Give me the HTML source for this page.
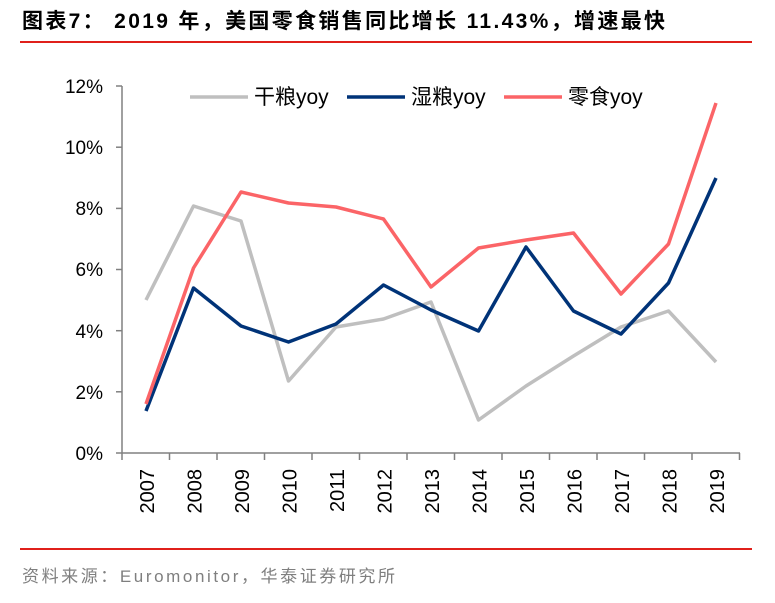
<!DOCTYPE html>
<html><head><meta charset="utf-8"><style>
body{margin:0;background:#fff;width:775px;height:598px;overflow:hidden;font-family:"Liberation Sans","Noto Sans CJK SC",sans-serif}
</style></head><body>
<svg width="775" height="598" xmlns="http://www.w3.org/2000/svg" font-family="Liberation Sans, Noto Sans CJK SC, sans-serif">
<text x="22" y="28" font-size="21" font-weight="bold" fill="#000" textLength="643" lengthAdjust="spacing">图表7：  2019 年，美国零食销售同比增长 11.43%，增速最快</text>
<line x1="20" y1="42" x2="752" y2="42" stroke="#e0201b" stroke-width="2"/>
<line x1="20" y1="549" x2="752" y2="549" stroke="#e0201b" stroke-width="2"/>
<text x="22" y="582" font-size="17" fill="#7f7f7f" textLength="373" lengthAdjust="spacing">资料来源：Euromonitor，华泰证券研究所</text>
<g stroke="#808080" stroke-width="1.5" fill="none">
<line x1="122" y1="86" x2="122" y2="453"/>
<line x1="122" y1="453" x2="740" y2="453"/>
<line x1="116" y1="86" x2="122" y2="86"/><line x1="116" y1="147.2" x2="122" y2="147.2"/><line x1="116" y1="208.4" x2="122" y2="208.4"/><line x1="116" y1="269.5" x2="122" y2="269.5"/><line x1="116" y1="330.7" x2="122" y2="330.7"/><line x1="116" y1="391.8" x2="122" y2="391.8"/><line x1="116" y1="453" x2="122" y2="453"/>
<path d="M122 453v7M169.5 453v7M217 453v7M264.5 453v7M312 453v7M359.5 453v7M407 453v7M454.5 453v7M502 453v7M549.5 453v7M597 453v7M644.5 453v7M692 453v7M739.5 453v7"/>
</g>
<g font-size="19" fill="#000" text-anchor="end">
<text x="103" y="93">12%</text><text x="103" y="154">10%</text><text x="103" y="215">8%</text><text x="103" y="276">6%</text><text x="103" y="338">4%</text><text x="103" y="399">2%</text><text x="103" y="460">0%</text>
</g>
<g font-size="20" fill="#000" text-anchor="end">
<text transform="translate(154,469) rotate(-90)">2007</text>
<text transform="translate(201.5,469) rotate(-90)">2008</text>
<text transform="translate(249,469) rotate(-90)">2009</text>
<text transform="translate(296.5,469) rotate(-90)">2010</text>
<text transform="translate(344,469) rotate(-90)">2011</text>
<text transform="translate(391.5,469) rotate(-90)">2012</text>
<text transform="translate(439,469) rotate(-90)">2013</text>
<text transform="translate(486.5,469) rotate(-90)">2014</text>
<text transform="translate(534,469) rotate(-90)">2015</text>
<text transform="translate(581.5,469) rotate(-90)">2016</text>
<text transform="translate(629,469) rotate(-90)">2017</text>
<text transform="translate(676.5,469) rotate(-90)">2018</text>
<text transform="translate(724,469) rotate(-90)">2019</text>
</g>
<g fill="none" stroke-width="3.5" stroke-linejoin="round">
<polyline stroke="#bfbfbf" points="146,300 193.5,206 241,221 288.5,381 336,327 383.5,319 431,302 478.5,420 526,386 573.5,356 621,327 668.5,311 716,362"/>
<polyline stroke="#003378" points="146,411 193.5,288 241,326 288.5,342 336,324 383.5,285 431,310 478.5,331 526,247 573.5,311 621,334 668.5,283 716,178"/>
<polyline stroke="#fb6467" points="146,404 193.5,268 241,192 288.5,203 336,207 383.5,219 431,287 478.5,248 526,240 573.5,233 621,294 668.5,244 716,103"/>
</g>
<g font-size="21" fill="#000">
<line x1="190" y1="97" x2="248" y2="97" stroke="#bfbfbf" stroke-width="3.5"/>
<text x="254" y="104">干粮yoy</text>
<line x1="347" y1="97" x2="405" y2="97" stroke="#003378" stroke-width="3.5"/>
<text x="411" y="104">湿粮yoy</text>
<line x1="504" y1="97" x2="562" y2="97" stroke="#fb6467" stroke-width="3.5"/>
<text x="568" y="104">零食yoy</text>
</g>
</svg>
</body></html>
